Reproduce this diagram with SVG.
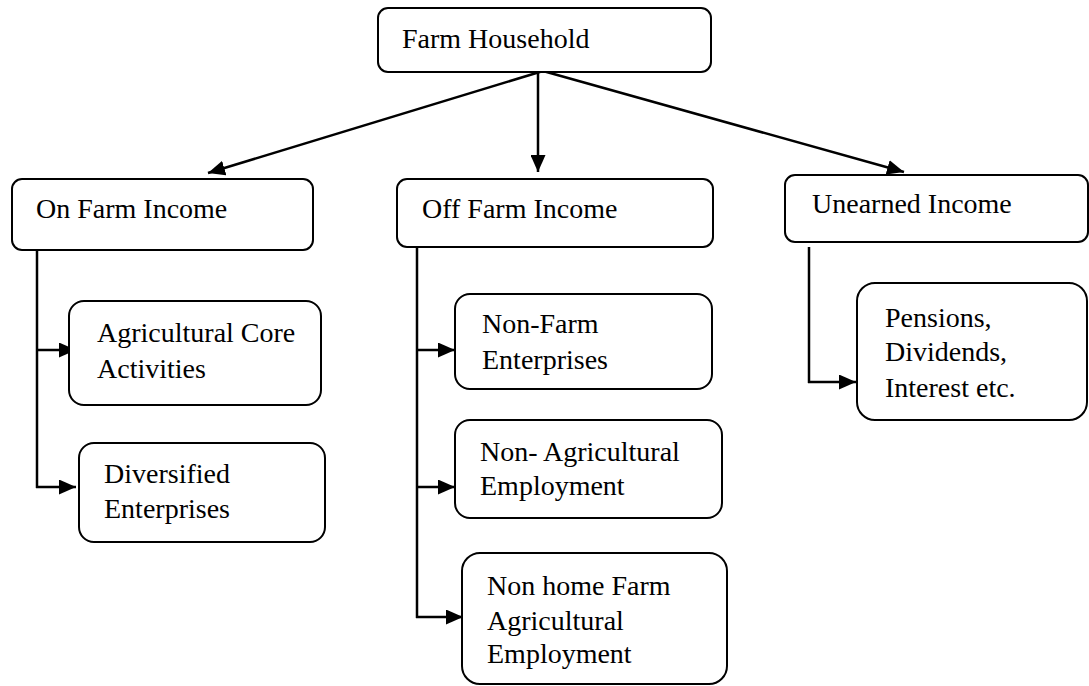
<svg xmlns="http://www.w3.org/2000/svg" width="1089" height="686" viewBox="0 0 1089 686">
<style>
.box{fill:#fff;stroke:#000;stroke-width:2}
.t{font-family:"Liberation Serif","Times New Roman",serif;font-size:28px;fill:#000}
.c{fill:none;stroke:#000;stroke-width:2.5}
.a{fill:none;stroke:#000;stroke-width:2.5;marker-end:url(#ah)}
</style>
<defs>
<marker id="ah" markerUnits="userSpaceOnUse" markerWidth="17" markerHeight="15" refX="17" refY="7.5" orient="auto" viewBox="0 0 17 15">
<path d="M0,0 L17,7.5 L0,15 z" fill="#000"/>
</marker>
</defs>
<rect width="1089" height="686" fill="#fff"/>
<g id="connectors">
<line class="a" x1="543" y1="71" x2="208" y2="173"/>
<line class="a" x1="538" y1="72" x2="538" y2="172"/>
<line class="a" x1="543" y1="71" x2="904" y2="172"/>
<polyline class="c" points="37,250 37,488"/>
<line class="a" x1="36" y1="350" x2="76" y2="350"/>
<line class="a" x1="36" y1="487" x2="76" y2="487"/>
<polyline class="c" points="417,247 417,618"/>
<line class="a" x1="416" y1="350" x2="455" y2="350"/>
<line class="a" x1="416" y1="487" x2="455" y2="487"/>
<line class="a" x1="416" y1="617" x2="463" y2="617"/>
<polyline class="c" points="809,247 809,383"/>
<line class="a" x1="808" y1="382" x2="856" y2="382"/>
</g>
<g id="farm-household">
<rect class="box" x="378" y="8" width="333" height="64" rx="10"/>
<text class="t" x="402" y="48">Farm Household</text>
</g>
<g id="on-farm-income">
<rect class="box" x="12" y="179" width="301" height="71" rx="10"/>
<text class="t" x="36" y="218">On Farm Income</text>
</g>
<g id="off-farm-income">
<rect class="box" x="397" y="179" width="316" height="68" rx="10"/>
<text class="t" x="422" y="218">Off Farm Income</text>
</g>
<g id="unearned-income">
<rect class="box" x="785" y="175" width="303" height="67" rx="10"/>
<text class="t" x="812" y="213">Unearned Income</text>
</g>
<g id="agricultural-core">
<rect class="box" x="69" y="301" width="252" height="104" rx="15"/>
<text class="t" x="97" y="342">Agricultural Core</text>
<text class="t" x="97" y="378">Activities</text>
</g>
<g id="diversified">
<rect class="box" x="79" y="443" width="246" height="99" rx="15"/>
<text class="t" x="104" y="483">Diversified</text>
<text class="t" x="104" y="518">Enterprises</text>
</g>
<g id="non-farm-enterprises">
<rect class="box" x="455" y="294" width="257" height="95" rx="15"/>
<text class="t" x="482" y="333">Non-Farm</text>
<text class="t" x="482" y="369">Enterprises</text>
</g>
<g id="non-agricultural-employment">
<rect class="box" x="455" y="420" width="267" height="98" rx="15"/>
<text class="t" x="480" y="461">Non- Agricultural</text>
<text class="t" x="480" y="495">Employment</text>
</g>
<g id="non-home-farm">
<rect class="box" x="462" y="553" width="265" height="131" rx="18"/>
<text class="t" x="487" y="595">Non home Farm</text>
<text class="t" x="487" y="630">Agricultural</text>
<text class="t" x="487" y="663">Employment</text>
</g>
<g id="pensions">
<rect class="box" x="857" y="283" width="230" height="137" rx="18"/>
<text class="t" x="885" y="327">Pensions,</text>
<text class="t" x="885" y="361">Dividends,</text>
<text class="t" x="885" y="397">Interest etc.</text>
</g>
</svg>
